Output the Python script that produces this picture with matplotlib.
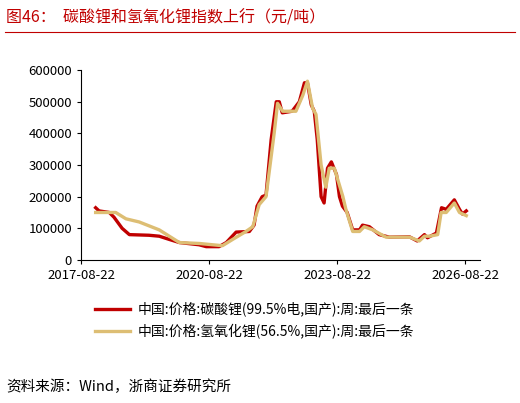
import matplotlib
matplotlib.use('Agg')
import matplotlib.pyplot as plt
from matplotlib.lines import Line2D

plt.rcParams['font.family'] = ['Noto Sans CJK SC', 'DejaVu Sans']

# 碳酸锂 (year, 元/吨)
li2co3_x = [2017.98, 2018.06, 2018.30, 2018.41, 2018.60, 2018.77, 2019.23, 2019.47, 2019.70, 2019.94,
            2020.40, 2020.57, 2020.87, 2021.04, 2021.27, 2021.58, 2021.69, 2021.76, 2021.88, 2021.97,
            2022.09, 2022.21, 2022.28, 2022.35, 2022.58, 2022.75, 2022.87, 2022.94, 2023.03, 2023.10,
            2023.17, 2023.26, 2023.33, 2023.41, 2023.50, 2023.62, 2023.69, 2023.76, 2023.87, 2024.00,
            2024.16, 2024.23, 2024.39, 2024.62, 2024.86, 2025.33, 2025.51, 2025.68, 2025.75, 2025.96,
            2026.08, 2026.19, 2026.38, 2026.50, 2026.57, 2026.66]
li2co3_y = [165e3, 155e3, 150e3, 135e3, 100e3, 80e3, 78e3, 75e3, 65e3, 55e3,
            48e3, 42e3, 42e3, 55e3, 88e3, 90e3, 110e3, 170e3, 200e3, 205e3,
            380e3, 500e3, 500e3, 465e3, 470e3, 500e3, 560e3, 560e3, 490e3, 470e3,
            380e3, 200e3, 180e3, 290e3, 310e3, 270e3, 200e3, 170e3, 150e3, 95e3,
            95e3, 110e3, 105e3, 80e3, 72e3, 73e3, 60e3, 80e3, 70e3, 85e3,
            165e3, 160e3, 190e3, 160e3, 145e3, 155e3]

# 氢氧化锂
lioh_x = [2017.98, 2018.45, 2018.69, 2019.00, 2019.47, 2019.94, 2020.41, 2020.95, 2021.19, 2021.50,
          2021.66, 2021.81, 2021.97, 2022.16, 2022.24, 2022.36, 2022.67, 2022.83, 2022.94, 2023.06,
          2023.14, 2023.26, 2023.37, 2023.45, 2023.57, 2023.77, 2023.84, 2024.00, 2024.16, 2024.27,
          2024.47, 2024.78, 2025.33, 2025.56, 2025.68, 2025.80, 2025.99, 2026.07, 2026.19, 2026.38,
          2026.50, 2026.66]
lioh_y = [150e3, 150e3, 130e3, 120e3, 95e3, 55e3, 52e3, 45e3, 65e3, 90e3,
          105e3, 175e3, 200e3, 400e3, 495e3, 470e3, 470e3, 520e3, 565e3, 480e3,
          460e3, 300e3, 230e3, 290e3, 290e3, 200e3, 160e3, 90e3, 90e3, 105e3,
          95e3, 72e3, 72e3, 60e3, 75e3, 75e3, 80e3, 150e3, 150e3, 180e3,
          150e3, 140e3]

tick_pos = [2017.64, 2020.64, 2023.64, 2026.64]
tick_labels = ['2017-08-22', '2020-08-22', '2023-08-22', '2026-08-22']

red = '#C00000'
tan = '#DDBE74'

fig = plt.figure(figsize=(5.2, 4.03), dpi=100)
ax = fig.add_axes([0.156, 0.355, 0.767, 0.471])
ax.plot(li2co3_x, li2co3_y, color=red, lw=2.4)
ax.plot(lioh_x, lioh_y, color=tan, lw=2.4)
ax.set_xlim(2017.64, 2026.98)
ax.set_ylim(0, 600000)
ax.set_yticks(range(0, 600001, 100000))
ax.set_xticks(tick_pos)
ax.set_xticklabels(tick_labels)
ax.tick_params(labelsize=9.5, length=3)
for s in ['top', 'right']:
    ax.spines[s].set_visible(False)

fig.text(0.012, 0.955, '图46：  碳酸锂和氢氧化锂指数上行（元/吨）', color=red, fontsize=11.5, va='center')
fig.add_artist(Line2D([0.01, 0.99], [0.92, 0.92], color=red, lw=0.8))

fig.add_artist(Line2D([0.183, 0.25], [0.233, 0.233], color=red, lw=2.4))
fig.text(0.265, 0.233, '中国:价格:碳酸锂(99.5%电,国产):周:最后一条', fontsize=10, va='center')
fig.add_artist(Line2D([0.183, 0.25], [0.178, 0.178], color=tan, lw=2.4))
fig.text(0.265, 0.178, '中国:价格:氢氧化锂(56.5%,国产):周:最后一条', fontsize=10, va='center')

fig.text(0.012, 0.04, '资料来源：Wind，浙商证券研究所', fontsize=10.5, va='center')

fig.savefig('out.png', dpi=100)
